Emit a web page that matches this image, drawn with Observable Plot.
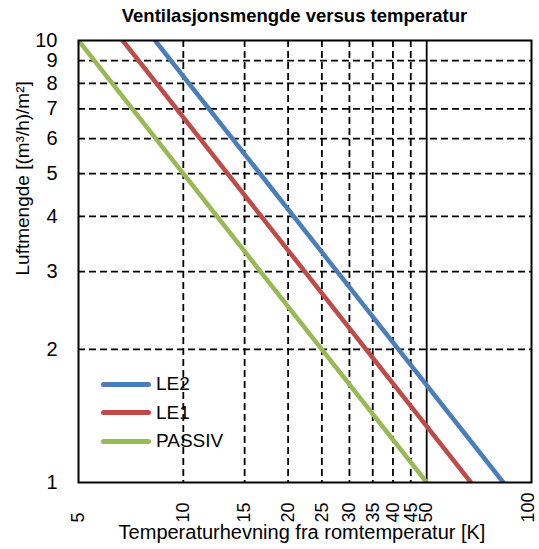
<!DOCTYPE html>
<html>
<head>
<meta charset="utf-8">
<script src="https://cdn.jsdelivr.net/npm/d3@7"></script>
<script src="https://cdn.jsdelivr.net/npm/@observablehq/plot@0.6"></script>
<style>
  html, body { margin: 0; padding: 0; background: #fff; }
  #wrap { position: relative; width: 539px; height: 549px; font-family: "Liberation Sans", Arial, sans-serif; }
  #title { position: absolute; left: 0; width: 539px; top: 5px; text-align: center; font-weight: bold; font-size: 18.5px; padding-left: 50px; box-sizing: border-box; }
  #legend { position: absolute; left: 101px; top: 370px; font-size: 19px; }
  .item { display: flex; align-items: center; height: 28.5px; }
  .sw { width: 50px; height: 5px; border-radius: 3px; margin-right: 5px; }
</style>
</head>
<body>
<div id="wrap">
  <div id="chart"></div>
  <div id="title">Ventilasjonsmengde versus temperatur</div>
  <div id="legend"></div>
</div>
<script>
// Series names and colours
const seriesNames = ["LE2", "LE1", "PASSIV"];
const seriesColors = ["#4a7ebb", "#be4b48", "#98b954"];

// Luftmengde values (y) and temperature rise (x) for each series
const airflow = [10, 1];
const tempLE2 = [8.3, 83];
const tempLE1 = [6.7, 67];
const tempPASSIV = [5, 50];

// Tick labels
const xTicks = [5, 10, 15, 20, 25, 30, 35, 40, 45, 50];
const xTickEnd = [100];
const xGridDashed = [10, 15, 20, 25, 30, 35, 40, 45];
const xGridSolid = [50];
const yTicks = [1, 2, 3, 4, 5, 6, 7, 8, 9, 10];
const yGrid = [2, 3, 4, 5, 6, 7, 8, 9];

const temps = {LE2: tempLE2, LE1: tempLE1, PASSIV: tempPASSIV};
const data = seriesNames.flatMap(s => airflow.map((y, i) => ({series: s, x: temps[s][i], y})));

const xLabelOpts = {frameAnchor: "bottom", dy: 40, rotate: -90, textAnchor: "start", lineAnchor: "middle", fontSize: 18};

const chart = Plot.plot({
  width: 539,
  height: 549,
  marginLeft: 78,
  marginRight: 8,
  marginTop: 40,
  marginBottom: 67,
  style: {fontFamily: "'Liberation Sans', Arial, sans-serif", fontSize: "18px", background: "#fff", color: "#000"},
  x: {type: "log", domain: [5, 100], axis: null},
  y: {type: "log", domain: [1, 10], axis: null},
  color: {domain: seriesNames, range: seriesColors},
  marks: [
    Plot.ruleX(xGridDashed, {stroke: "#000", strokeWidth: 1.8, strokeDasharray: "7,4"}),
    Plot.ruleY(yGrid, {stroke: "#000", strokeWidth: 1.8, strokeDasharray: "7,4"}),
    Plot.ruleX(xGridSolid, {stroke: "#000", strokeWidth: 1.8}),
    Plot.line(data, {x: "x", y: "y", z: "series", stroke: "series", strokeWidth: 4.5, clip: true}),
    Plot.frame({stroke: "#000", strokeWidth: 2}),
    Plot.text(yTicks, {y: d => d, frameAnchor: "left", dx: -21, textAnchor: "end", fontSize: 20}),
    Plot.text(xTicks, {x: d => d, ...xLabelOpts}),
    Plot.text(xTickEnd, {x: d => d, ...xLabelOpts, dx: -3}),
    Plot.text(["Temperaturhevning fra romtemperatur [K]"], {frameAnchor: "bottom", dy: 56, fontSize: 20, dx: -3}),
    Plot.text(["Luftmengde [(m³/h)/m²]"], {frameAnchor: "left", dx: -56, rotate: -90, fontSize: 19, dy: 14})
  ]
});
document.getElementById("chart").appendChild(chart);

const legend = document.getElementById("legend");
seriesNames.forEach((s, i) => {
  const item = document.createElement("div");
  item.className = "item";
  item.innerHTML = `<div class="sw" style="background:${seriesColors[i]}"></div><span>${s}</span>`;
  legend.appendChild(item);
});
</script>
</body>
</html>
